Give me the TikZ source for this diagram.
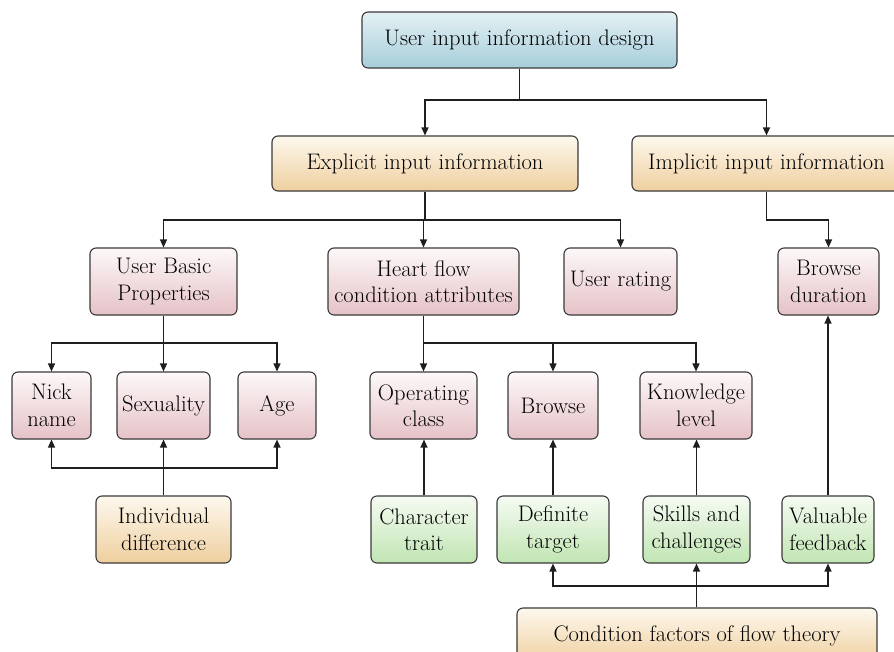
\documentclass[tikz,border=0pt]{standalone}
\usetikzlibrary{arrows.meta}
\definecolor{bluetop}{HTML}{E4F0F4}
\definecolor{bluebot}{HTML}{A6CEDB}
\definecolor{orgtop}{HTML}{FDF8EE}
\definecolor{orgbot}{HTML}{EFCF9E}
\definecolor{pinktop}{HTML}{FDF8F8}
\definecolor{pinkbot}{HTML}{E5C2C7}
\definecolor{grntop}{HTML}{F6FBF3}
\definecolor{grnbot}{HTML}{C0E5B2}
\definecolor{edge}{HTML}{3A3A3A}
\definecolor{ink}{HTML}{1E1E1E}
\tikzset{
  box/.style={draw=edge, line width=1.1pt, rounded corners=6pt, align=center,
    inner sep=0pt, text=black, font=\fontsize{22.5}{26.5}\selectfont},
  bluebox/.style={box, top color=bluetop, bottom color=bluebot},
  orgbox/.style={box, top color=orgtop, bottom color=orgbot},
  pinkbox/.style={box, top color=pinktop, bottom color=pinkbot},
  grnbox/.style={box, top color=grntop, bottom color=grnbot},
  wire/.style={draw=ink, line width=1.25pt},
  arr/.style={wire, -{Triangle[length=8pt,width=7pt]}}
}
\begin{document}
\begin{tikzpicture}[x=1pt, y=-1pt]
\useasboundingbox (0,0) rectangle (894,651);
\clip (0,0) rectangle (894,651);
\fill[white] (0,0) rectangle (894,651);

% top level
\node[bluebox, minimum width=315pt, minimum height=56pt] (top) at (519.5,40) {User input information design};
\node[orgbox, minimum width=306pt, minimum height=55pt] (expl) at (425,163.5) {Explicit input information};
\node[orgbox, minimum width=269pt, minimum height=55pt] (impl) at (766.5,163.5) {Implicit input information};

% second level
\node[pinkbox, minimum width=147pt, minimum height=67pt] (ubp) at (163.5,281.5) {User Basic\\Properties};
\node[pinkbox, minimum width=191pt, minimum height=67pt] (heart) at (423.5,281.5) {Heart flow\\condition attributes};
\node[pinkbox, minimum width=113pt, minimum height=67pt] (rating) at (620.5,281.5) {User rating};
\node[pinkbox, minimum width=101pt, minimum height=67pt] (bdur) at (828.5,281.5) {Browse\\duration};

% third level
\node[pinkbox, minimum width=79pt, minimum height=67pt] (nick) at (51.5,405.5) {Nick\\name};
\node[pinkbox, minimum width=93pt, minimum height=67pt] (sex) at (163.5,405.5) {Sexuality};
\node[pinkbox, minimum width=78pt, minimum height=67pt] (age) at (277,405.5) {Age};
\node[pinkbox, minimum width=107pt, minimum height=67pt] (opc) at (423.5,405.5) {Operating\\class};
\node[pinkbox, minimum width=90pt, minimum height=67pt] (brw) at (553,405.5) {Browse};
\node[pinkbox, minimum width=112pt, minimum height=67pt] (know) at (696,405.5) {Knowledge\\level};

% fourth level
\node[orgbox, minimum width=135pt, minimum height=67pt] (indiv) at (163.5,529.5) {Individual\\difference};
\node[grnbox, minimum width=106pt, minimum height=67pt] (chara) at (424,529.5) {Character\\trait};
\node[grnbox, minimum width=112pt, minimum height=67pt] (defin) at (553,529.5) {Definite\\target};
\node[grnbox, minimum width=107pt, minimum height=67pt] (skill) at (696.5,529.5) {Skills and\\challenges};
\node[grnbox, minimum width=92pt, minimum height=67pt] (valu) at (828,529.5) {Valuable\\feedback};

% bottom
\node[orgbox, minimum width=360pt, minimum height=56pt] (cond) at (697,636) {Condition factors of flow theory};

% junction points
\coordinate (j1) at (top.south |- 0,100);
\coordinate (j2) at (expl.south |- 0,220);
\coordinate (j3) at (impl.south |- 0,220);
\coordinate (j4) at (ubp.south |- 0,343);
\coordinate (j5) at (heart.south |- 0,343);
\coordinate (j6) at (indiv.north |- 0,468);
\coordinate (j7) at (skill.south |- 0,586);

% top -> explicit / implicit
\draw[wire] (top.south) -- (j1);
\draw[arr] (j1) -| (expl.north);
\draw[arr] (j1) -| (impl.north);

% explicit -> second level
\draw[wire] (expl.south) -- (j2);
\draw[arr] (j2) -| (ubp.north);
\draw[arr] (j2) -- (j2 -| heart.north) -- (heart.north);
\draw[arr] (j2) -| (rating.north);

% implicit -> browse duration
\draw[arr] (impl.south) -- (j3) -| (bdur.north);

% user basic properties -> attributes
\draw[wire] (ubp.south) -- (j4);
\draw[arr] (j4) -| (nick.north);
\draw[arr] (j4) -- (sex.north);
\draw[arr] (j4) -| (age.north);

% heart flow -> attributes
\draw[wire] (heart.south) -- (j5);
\draw[arr] (j5) -- (opc.north);
\draw[arr] (j5) -| (brw.north);
\draw[arr] (j5) -| (know.north);

% individual difference -> attributes
\draw[wire] (indiv.north) -- (j6);
\draw[arr] (j6) -| (nick.south);
\draw[arr] (j6) -- (sex.south);
\draw[arr] (j6) -| (age.south);

% green factors -> attributes
\draw[arr] (chara.north) -- (chara.north |- opc.south);
\draw[arr] (defin.north) -- (brw.south);
\draw[arr] (skill.north) -- (skill.north |- know.south);
\draw[arr] (valu.north) -- (valu.north |- bdur.south);

% condition factors -> green factors
\draw[wire] (cond.north -| skill.south) -- (j7);
\draw[arr] (j7) -| (defin.south);
\draw[arr] (j7) -- (skill.south);
\draw[arr] (j7) -| (valu.south);
\end{tikzpicture}
\end{document}
